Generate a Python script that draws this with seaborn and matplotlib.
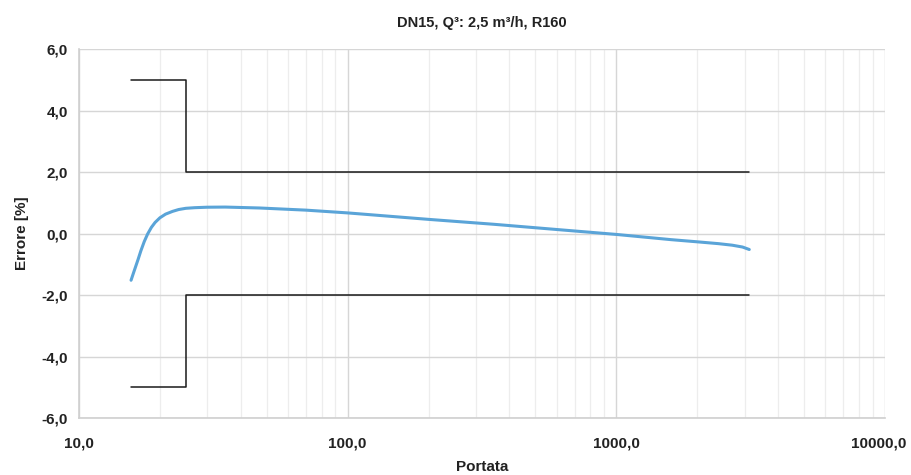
import numpy as np
import pandas as pd
import seaborn as sns
import matplotlib.pyplot as plt
import matplotlib.transforms as mtransforms
from matplotlib.ticker import FixedLocator, FuncFormatter, LogLocator, NullFormatter

# dati (portata in l/h, errore in %)
portata = [15.625, 16.0, 16.6, 17.0, 17.5, 18.0, 18.6, 19.2, 20.0, 21.0, 22.3, 23.5, 25.0,
           27.0, 30.0, 35.0, 47.0, 70.0, 100.0, 200.0, 350.0, 600.0, 1000.0, 1600.0,
           2000.0, 2400.0, 2700.0, 2950.0, 3125.0]
errore = [-1.52, -1.25, -0.84, -0.56, -0.26, -0.02, 0.20, 0.36, 0.51, 0.63, 0.72, 0.78, 0.82,
          0.84, 0.855, 0.86, 0.83, 0.76, 0.67, 0.46, 0.30, 0.13, -0.03, -0.20,
          -0.27, -0.33, -0.38, -0.44, -0.52]

# limiti MPE
lim_x = [15.625, 25.0, 25.0, 3125.0]
lim_sup = [5.0, 5.0, 2.0, 2.0]
lim_inf = [-5.0, -5.0, -2.0, -2.0]

y_ticks = [-6, -4, -2, 0, 2, 4, 6]
x_ticks = [10, 100, 1000, 10000]

sns.set_theme(style="white")
plt.rcParams['font.family'] = ['Liberation Sans', 'DejaVu Sans']

fig = plt.figure(figsize=(9.12, 4.75), dpi=100)
ax = fig.add_axes([0.0866, 0.12, 0.8838, 0.7768])

df_curve = pd.DataFrame({'Portata': portata, 'Errore': errore})
df_sup = pd.DataFrame({'x': lim_x, 'y': lim_sup})
df_inf = pd.DataFrame({'x': lim_x, 'y': lim_inf})

sns.lineplot(data=df_sup, x='x', y='y', ax=ax, color='#1a1a1a', linewidth=1.1, sort=False, estimator=None)
sns.lineplot(data=df_inf, x='x', y='y', ax=ax, color='#1a1a1a', linewidth=1.1, sort=False, estimator=None)
sns.lineplot(data=df_curve, x='Portata', y='Errore', ax=ax, color='#5aa4d8', linewidth=2.2,
             sort=False, estimator=None)
ax.lines[-1].set_solid_capstyle('round')
ax.lines[-1].set_solid_joinstyle('round')

ax.set_xscale('log')
ax.set_xlim(10, 10000)
ax.set_ylim(-6, 6)
ax.xaxis.set_major_locator(FixedLocator(x_ticks))
ax.xaxis.set_minor_locator(LogLocator(base=10, subs=np.arange(2, 10)))
ax.xaxis.set_minor_formatter(NullFormatter())
ax.yaxis.set_major_locator(FixedLocator(y_ticks))
virgola = FuncFormatter(lambda v, p: f"{v:.1f}".replace('.', ','))
ax.xaxis.set_major_formatter(virgola)
ax.yaxis.set_major_formatter(virgola)

ax.grid(True, which='major', axis='both', color='#d6d6d6', linewidth=1.0)
ax.grid(True, which='minor', axis='x', color='#ededed', linewidth=0.9)
ax.set_axisbelow(True)

for s in ['top', 'right']:
    ax.spines[s].set_visible(False)
for s in ['left', 'bottom']:
    ax.spines[s].set_color('#cfcfcf')
    ax.spines[s].set_linewidth(1.2)

ax.tick_params(axis='both', which='both', length=0, labelsize=11, colors='#222222', pad=8)
ax.tick_params(axis='x', pad=13)

fig.canvas.draw()
for lab in ax.get_xticklabels() + ax.get_yticklabels():
    lab.set_fontweight('bold')
# l'ultima etichetta spostata un poco a sinistra per restare dentro la figura
spost = mtransforms.ScaledTranslation(-6 / 100, 0, fig.dpi_scale_trans)
last = ax.get_xticklabels()[-1]
last.set_transform(last.get_transform() + spost)

ax.set_xlabel('Portata', fontsize=11, fontweight='bold', color='#222222', labelpad=7)
ax.set_ylabel('Errore [%]', fontsize=11, fontweight='bold', color='#222222', labelpad=9)
ax.set_title('DN15, Q³: 2,5 m³/h, R160', fontsize=10.5, fontweight='bold', color='#222222', pad=16)

fig.savefig('out.png', dpi=100)
